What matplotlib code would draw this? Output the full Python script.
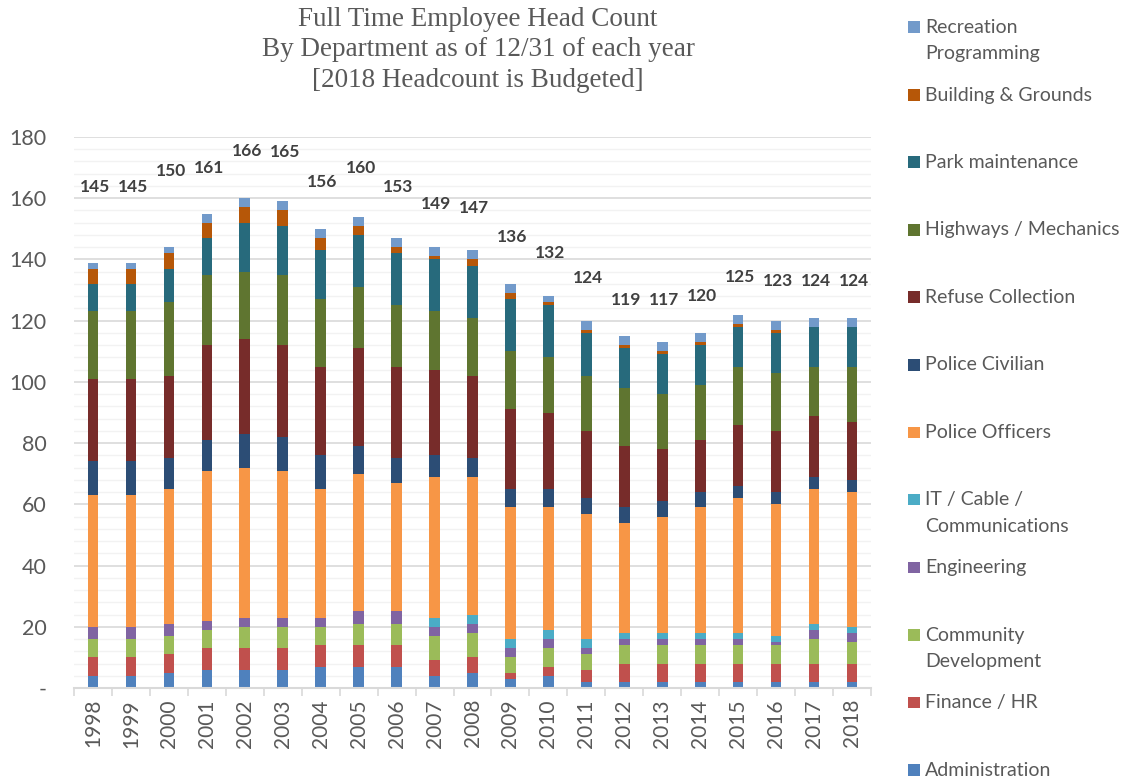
import matplotlib
matplotlib.use("Agg")
import matplotlib.pyplot as plt
import numpy as np

years = [str(y) for y in range(1998, 2019)]

admin       = [4, 4, 5, 6, 6, 6, 7, 7, 7, 4, 5, 3, 4, 2, 2, 2, 2, 2, 2, 2, 2]
finance     = [6, 6, 6, 7, 7, 7, 7, 7, 7, 5, 5, 2, 3, 4, 6, 6, 6, 6, 6, 6, 6]
community   = [6, 6, 6, 6, 7, 7, 6, 7, 7, 8, 8, 5, 6, 5, 6, 6, 6, 6, 6, 8, 7]
engineering = [4, 4, 4, 3, 3, 3, 3, 4, 4, 3, 3, 3, 3, 2, 2, 2, 2, 2, 1, 3, 3]
it_cable    = [0, 0, 0, 0, 0, 0, 0, 0, 0, 3, 3, 3, 3, 3, 2, 2, 2, 2, 2, 2, 2]
police_off  = [43, 43, 44, 49, 49, 48, 42, 45, 42, 46, 45, 43, 40, 41, 36, 38, 41, 44, 43, 44, 44]
police_civ  = [11, 11, 10, 10, 11, 11, 11, 9, 8, 7, 6, 6, 6, 5, 5, 5, 5, 4, 4, 4, 4]
refuse      = [27, 27, 27, 31, 31, 30, 29, 32, 30, 28, 27, 26, 25, 22, 20, 17, 17, 20, 20, 20, 19]
highways    = [22, 22, 24, 23, 22, 23, 22, 20, 20, 19, 19, 19, 18, 18, 19, 18, 18, 19, 19, 16, 18]
park        = [9, 9, 11, 12, 16, 16, 16, 17, 17, 17, 17, 17, 17, 14, 13, 13, 13, 13, 13, 13, 13]
buildings   = [5, 5, 5, 5, 5, 5, 4, 3, 2, 1, 2, 2, 1, 1, 1, 1, 1, 1, 1, 0, 0]
recreation  = [2, 2, 2, 3, 3, 3, 3, 3, 3, 3, 3, 3, 2, 3, 3, 3, 3, 3, 3, 3, 3]

headcount_labels = [145, 145, 150, 161, 166, 165, 156, 160, 153, 149, 147,
                    136, 132, 124, 119, 117, 120, 125, 123, 124, 124]
label_height = [163.7, 163.7, 168.9, 169.9, 175.5, 175.2, 165.4, 169.9, 163.7, 158.2, 156.9,
                147.4, 142.2, 134.0, 126.8, 126.8, 128.1, 134.3, 133.0, 133.0, 133.0]

series = [
    ("Administration", admin, "#4F81BD"),
    ("Finance / HR", finance, "#C0504D"),
    ("Community\nDevelopment", community, "#9BBB59"),
    ("Engineering", engineering, "#8064A2"),
    ("IT / Cable /\nCommunications", it_cable, "#4BACC6"),
    ("Police Officers", police_off, "#F79646"),
    ("Police Civilian", police_civ, "#2C4D75"),
    ("Refuse Collection", refuse, "#772C2A"),
    ("Highways / Mechanics", highways, "#5F7530"),
    ("Park maintenance", park, "#276A7C"),
    ("Building & Grounds", buildings, "#B65708"),
    ("Recreation\nProgramming", recreation, "#729ACA"),
]

SANS = ["Lato", "DejaVu Sans"]
GRAY = "#595959"

W, H = 1133, 779
fig = plt.figure(figsize=(W / 100, H / 100), dpi=100)
ax = fig.add_axes([74 / W, (H - 688) / H, (871 - 74) / W, (688 - 137) / H])

x = np.arange(len(years))
bottom = np.zeros(len(years))
for name, vals, col in series:
    v = np.array(vals, dtype=float)
    ax.bar(x, v, width=0.28, bottom=bottom, color=col, edgecolor="none", zorder=3)
    bottom += v

for xi, lab, hy in zip(x, headcount_labels, label_height):
    ax.text(xi + 0.05, hy, str(lab), ha="center", va="center", fontsize=12.5,
            fontweight="bold", color="#404040", family=SANS)

ax.set_xlim(-0.5, len(years) - 0.5)
ax.set_ylim(0, 180)
ax.set_yticks(np.arange(0, 181, 20))
ax.set_yticklabels(["-"] + [str(v) for v in range(20, 181, 20)])
ax.set_yticks(np.arange(0, 181, 4), minor=True)
ax.yaxis.grid(True, which="major", color="#d9d9d9", linewidth=1.2, zorder=0)
ax.yaxis.grid(True, which="minor", color="#f2f2f2", linewidth=1.0, zorder=0)
ax.tick_params(axis="y", which="both", length=0, labelsize=15.5, labelcolor=GRAY, pad=19.5)
for t in ax.get_yticklabels():
    t.set_family(SANS)

ax.set_xticks(x)
ax.set_xticklabels(years, rotation=90, fontsize=15, color=GRAY, family=SANS)
ax.set_xticks(np.arange(-0.5, len(years), 1), minor=True)
ax.tick_params(axis="x", which="major", length=0, pad=8)
ax.tick_params(axis="x", which="minor", length=6, color="#d9d9d9", width=1.2)

for s in ["top", "right", "left"]:
    ax.spines[s].set_visible(False)
ax.spines["bottom"].set_color("#d9d9d9")
ax.spines["bottom"].set_linewidth(1.5)
ax.spines["bottom"].set_zorder(4)

fig.text(478 / W, 1 - 50 / H,
         "Full Time Employee Head Count\nBy Department as of 12/31 of each year\n[2018 Headcount is Budgeted]",
         ha="center", va="center", fontsize=19.5, color=GRAY, family="Liberation Serif",
         linespacing=1.27)

# legend (top to bottom, reverse stacking order)
for i, (name, vals, col) in enumerate(series[::-1]):
    ymid = 27.5 + 67.5 * i
    fig.patches.append(matplotlib.patches.Rectangle(
        (908 / W, 1 - (ymid + 5.5) / H), 11.5 / W, 11.5 / H,
        transform=fig.transFigure, facecolor=col, edgecolor="none"))
    fig.text(925 / W, 1 - (ymid - 8.5) / H, name, ha="left", va="top",
             fontsize=14, color=GRAY, family=SANS, linespacing=1.65)

fig.savefig("out.png", dpi=100)
